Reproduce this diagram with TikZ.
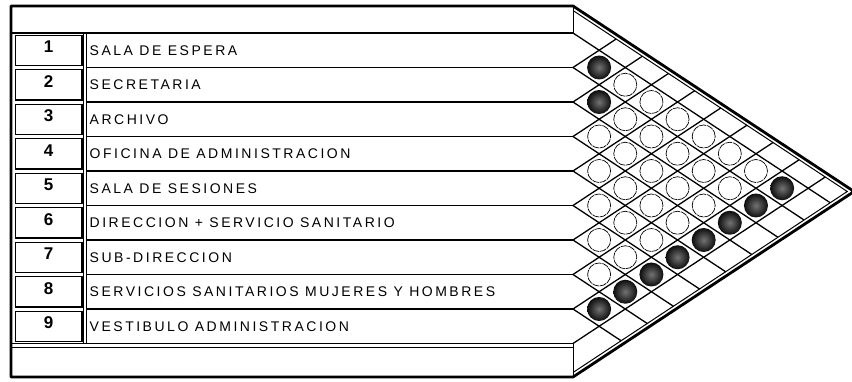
\documentclass[tikz,border=0pt]{standalone}
\usepackage{fontspec}
\setmainfont{Liberation Sans}
\newfontfamily\lblfont[LetterSpace=18]{Liberation Sans}
\usetikzlibrary{calc}
\begin{document}
\begin{tikzpicture}[x=1pt,y=-1pt,
  frame/.style={line width=2.8pt, line join=round},
  thinline/.style={line width=1pt},
  gridline/.style={line width=1.3pt},
  rowline/.style={line width=1.6pt},
  numbox/.style={draw, line width=0.8pt, minimum width=66pt, minimum height=30pt, inner sep=0pt},
  numtext/.style={font=\fontsize{17}{17}\selectfont\bfseries, anchor=base, inner sep=0pt},
  lbltext/.style={font=\fontsize{14}{14}\lblfont, anchor=base west, inner sep=0pt},
  whitedot/.style={circle, draw, line width=0.7pt, fill=white, minimum size=23pt, inner sep=0pt, dash pattern=on 7pt off 0.8pt},
  darkdot/.style={circle, minimum size=24pt, inner sep=0pt, shading=radial, inner color=black!55, outer color=black!95}
]
\def\xo{573}
\def\Lz{33}
\def\p{34.5}
\def\s{0.66}
\def\Ti{10.5}
\def\Bi{372.5}
\pgfmathsetmacro\h{\p/2/\s}
\useasboundingbox (0,0) rectangle (852,382);
\clip (0,0) rectangle (852,382);
\fill[white] (0,0) rectangle (852,382);

% row line end points
\foreach \k in {0,...,9}{
  \pgfmathsetmacro\Lk{\Lz+\k*\p}
  \coordinate (e\k) at (\xo,\Lk);
}

% outer frame
\pgfmathsetmacro\dout{(377-6)/(2*\s)}
\coordinate (o1) at (11,6);
\coordinate (o2) at (\xo,6);
\coordinate (tip) at (\xo+\dout,6+\s*\dout);
\coordinate (o3) at (\xo,377);
\coordinate (o4) at (11,377);
\draw[frame] (o1) -- (o2) -- (tip) -- (o3) -- (o4) -- cycle;

% inner border of the triangle
\pgfmathsetmacro\din{(\Bi-\Ti)/(2*\s)}
\coordinate (i1) at (\xo,\Ti);
\coordinate (itip) at (\xo+\din,\Ti+\s*\din);
\coordinate (i2) at (\xo,\Bi);
\draw[thinline] (i1) -- (itip) -- (i2);

% header and footer boxes
\draw[thinline] (o2) -- (e0);
\draw[thinline] (e9) -- (o3);
\draw[rowline] (11,\Lz) -- (e0);
\draw[rowline] (11,343.5) -- (e9);
\draw[thinline] (11,347.5) -- (\xo,347.5);

% row separators
\foreach \k in {1,...,8}{
  \draw[rowline] (86.5,\Lz+\k*\p) -- (e\k);
}
\draw[thinline] (83,\Lz) -- (83,343.5);
\draw[thinline] (86.5,\Lz) -- (86.5,343.5);

% diagonal grid
\foreach \k in {0,...,8}{
  \pgfmathsetmacro\Lk{\Lz+\k*\p}
  \pgfmathsetmacro\d{(\Bi-\Lk)/(2*\s)}
  \draw[gridline] (e\k) -- ++(\d,\s*\d);
}
\foreach \k in {1,...,9}{
  \pgfmathsetmacro\Lk{\Lz+\k*\p}
  \pgfmathsetmacro\d{(\Lk-\Ti)/(2*\s)}
  \draw[gridline] (e\k) -- ++(\d,-\s*\d);
}

% circles
\foreach \i in {1,...,8}{
  \pgfmathtruncatemacro\ja{\i+1}
  \foreach \j in {\ja,...,9}{
    \pgfmathsetmacro\cx{\xo+(\j-\i)*\h}
    \pgfmathsetmacro\cy{\Lz+((\i+\j)/2-0.5)*\p}
    \pgfmathtruncatemacro\dark{(\j==9)||(\i==1&&\j==2)||(\i==2&&\j==3)}
    \ifnum\dark=1
      \node[darkdot] (c\i-\j) at (\cx,\cy) {};
    \else
      \node[whitedot] (c\i-\j) at (\cx,\cy) {};
    \fi
  }
}

% number boxes and labels
\foreach \i/\t in {1/SALA DE ESPERA,2/SECRETARIA,3/ARCHIVO,4/OFICINA DE ADMINISTRACION,5/SALA DE SESIONES,6/DIRECCION + SERVICIO SANITARIO,7/SUB-DIRECCION,8/SERVICIOS SANITARIOS MUJERES Y HOMBRES,9/VESTIBULO ADMINISTRACION}{
  \pgfmathsetmacro\ci{\Lz+(\i-0.5)*\p}
  \node[numbox] (box\i) at (48.5,\ci) {};
  \draw[line width=1.6pt] (box\i.north east) -- (box\i.south east) -- (box\i.south west);
  \node[numtext] (num\i) at (48.5,\ci+2.5) {\i};
  \node[lbltext] (lab\i) at (89.5,\ci+5) {\t};
}
\end{tikzpicture}
\end{document}
